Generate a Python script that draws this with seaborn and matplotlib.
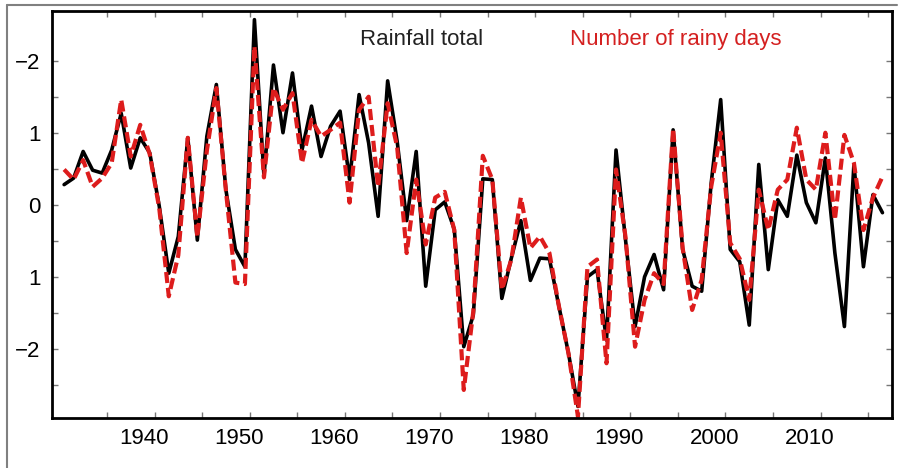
import numpy as np
import pandas as pd
import matplotlib
matplotlib.use("Agg")
import matplotlib.pyplot as plt
import matplotlib.transforms as mtransforms
from matplotlib.lines import Line2D
import seaborn as sns

# Annual standardized anomalies
years = list(range(1930, 2017))

rainfall_total = [
    0.28, 0.37, 0.74, 0.48, 0.44, 0.76, 1.27, 0.51, 0.93, 0.72,
    -0.02, -0.95, -0.44, 0.93, -0.49, 0.95, 1.67, 0.21, -0.62, -0.86,
    2.57, 0.40, 1.94, 1.00, 1.83, 0.76, 1.37, 0.67, 1.09, 1.30,
    0.35, 1.53, 0.86, -0.16, 1.72, 0.88, -0.22, 0.74, -1.13, -0.07,
    0.04, -0.34, -1.97, -1.53, 0.36, 0.35, -1.30, -0.74, -0.22, -1.05,
    -0.74, -0.75, -1.41, -2.06, -2.80, -1.00, -0.90, -1.88, 0.76, -0.49,
    -1.69, -1.00, -0.69, -1.18, 1.04, -0.62, -1.13, -1.20, 0.30, 1.46,
    -0.62, -0.79, -1.67, 0.56, -0.90, 0.07, -0.16, 0.69, 0.03, -0.25,
    0.65, -0.67, -1.69, 0.56, -0.86, 0.14, -0.11,
]

rainy_days = [
    0.49, 0.35, 0.62, 0.25, 0.37, 0.58, 1.46, 0.67, 1.11, 0.70,
    -0.05, -1.27, -0.70, 0.93, -0.45, 0.75, 1.62, 0.20, -1.08, -1.10,
    2.20, 0.38, 1.62, 1.32, 1.55, 0.58, 1.18, 0.95, 1.04, 1.14,
    0.03, 1.32, 1.50, 0.25, 1.41, 0.80, -0.67, 0.35, -0.55, 0.10,
    0.18, -0.35, -2.57, -1.48, 0.68, 0.35, -1.18, -0.76, 0.10, -0.60,
    -0.44, -0.67, -1.41, -2.06, -2.94, -0.86, -0.76, -2.20, 0.49, -0.45,
    -1.97, -1.32, -0.95, -1.10, 1.06, -0.60, -1.46, -1.04, 0.25, 1.00,
    -0.53, -0.75, -1.32, 0.21, -0.35, 0.21, 0.35, 1.07, 0.35, 0.21,
    1.00, -0.21, 0.97, 0.58, -0.35, 0.10, 0.39,
]

y_ticks = [2, 1, 0, -1, -2]
y_tick_labels = ["\u22122", "1", "0", "1", "\u22122"]
x_ticks = [1940, 1950, 1960, 1970, 1980, 1990, 2000, 2010]

# values are centred mid-year
df = pd.DataFrame({
    "year": np.array(years) + 0.5,
    "rain": rainfall_total,
    "days": rainy_days,
})

sns.set_style("ticks")
plt.rcParams["font.family"] = ["Liberation Sans", "DejaVu Sans"]
plt.rcParams["lines.scale_dashes"] = False

fig = plt.figure(figsize=(9.03, 4.68), dpi=100)
ax = fig.add_axes([0.0573, 0.1068, 0.9305, 0.8697])

sns.lineplot(data=df, x="year", y="rain", ax=ax, color="black", linewidth=2.6)
sns.lineplot(data=df, x="year", y="days", ax=ax, color="#dd1c1c", linewidth=3.0)
ax.lines[-1].set_dashes([8, 3.5])

ax.set_xlim(1929.2, 2017.5)
ax.set_ylim(-2.96, 2.69)
ax.set_xlabel("")
ax.set_ylabel("")

ax.set_xticks(x_ticks)
ax.set_xticks(np.arange(1935, 2016, 5), minor=True)
ax.set_yticks(y_ticks)
ax.set_yticklabels(y_tick_labels)
ax.set_yticks(np.arange(-2.5, 2.0, 0.5), minor=True)

ax.tick_params(which="both", direction="in", top=True, right=True,
               length=4, width=1, labelsize=16, colors="black")
ax.tick_params(which="both", color="#777777")
ax.tick_params(axis="y", pad=8)
ax.tick_params(axis="x", pad=7)

# the tick labels in the original sit slightly to the left of their ticks
shift = mtransforms.ScaledTranslation(-11 / 100, 0, fig.dpi_scale_trans)
for lab in ax.get_xticklabels():
    lab.set_transform(lab.get_transform() + shift)

for sp in ax.spines.values():
    sp.set_linewidth(2)
    sp.set_color("black")

ax.text(0.44, 0.93, "Rainfall total", transform=ax.transAxes,
        ha="center", va="center", fontsize=16, color="#222222")
ax.text(0.743, 0.93, "Number of rainy days", transform=ax.transAxes,
        ha="center", va="center", fontsize=16, color="#d42020")

# thin grey frame of the original figure
fig.add_artist(Line2D([0.0078, 0.993], [0.989, 0.989], color="#808080", lw=1.5,
                      transform=fig.transFigure))
fig.add_artist(Line2D([0.0078, 0.0078], [0.0, 0.989], color="#808080", lw=1.5,
                      transform=fig.transFigure))

fig.savefig("out.png", dpi=100)
